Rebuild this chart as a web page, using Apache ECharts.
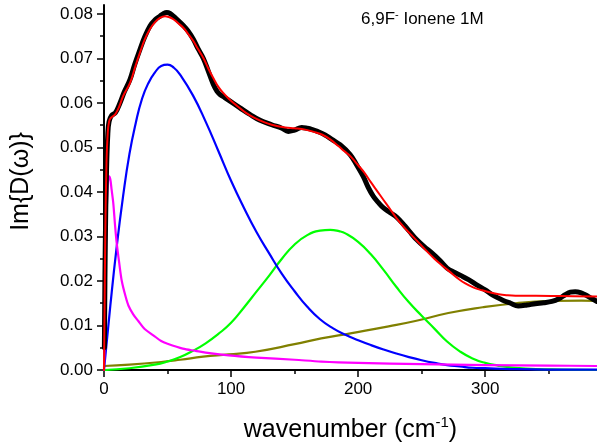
<!DOCTYPE html>
<html>
<head>
<meta charset="utf-8">
<script src="https://cdn.jsdelivr.net/npm/echarts@6/dist/echarts.min.js"></script>
<style>
  html, body { margin: 0; padding: 0; background: #fff; }
  #chart { width: 597px; height: 446px; }
</style>
</head>
<body>
<div id="chart"></div>
<script>
// ---- tick labels ----
const xTicks = [0, 100, 200, 300];
const xMinorTicks = [50, 150, 250, 350];
const yTicks = [0, 0.01, 0.02, 0.03, 0.04, 0.05, 0.06, 0.07, 0.08];
const yMinorTicks = [0.005, 0.015, 0.025, 0.035, 0.045, 0.055, 0.065, 0.075];

// ---- measured data (black) ----
const dataX = [0.3, 1, 2, 3, 4, 6, 9, 12.6, 16, 20.5, 24, 28.3, 32, 36.2, 40, 44, 47, 49.4, 52, 54.6, 58, 62.4, 66, 70.3, 74, 78.2, 82, 86, 89, 91.3, 95, 99.2, 107, 115, 122.8, 132, 140, 145, 150, 155.6, 160, 164, 168, 174, 179.3, 185.8, 193.7, 199, 204, 208, 212, 216, 220, 225, 230.5, 237, 242, 246, 252, 258, 264, 270, 276, 281, 286.9, 293, 300, 306, 313, 320, 326, 333, 339.4, 346, 352.5, 358, 363, 367, 370.9, 375, 378.7, 383, 388];
const dataY = [0.005, 0.028, 0.045, 0.053, 0.0558, 0.0572, 0.0578, 0.0600, 0.0625, 0.0653, 0.0685, 0.0720, 0.0748, 0.0773, 0.0786, 0.0795, 0.0801, 0.0803, 0.0801, 0.0795, 0.0786, 0.0774, 0.0762, 0.0743, 0.0722, 0.0700, 0.0672, 0.0642, 0.0626, 0.0619, 0.0612, 0.0604, 0.0589, 0.0574, 0.0561, 0.0551, 0.0543, 0.0536, 0.0539, 0.0545, 0.0543, 0.0540, 0.0536, 0.0528, 0.0518, 0.0506, 0.0484, 0.0460, 0.0435, 0.0410, 0.0390, 0.0376, 0.0364, 0.0354, 0.0343, 0.0323, 0.0306, 0.0293, 0.0277, 0.0263, 0.0247, 0.0229, 0.0219, 0.0212, 0.0203, 0.0192, 0.0180, 0.0168, 0.0158, 0.0150, 0.0144, 0.0146, 0.0149, 0.0151, 0.0154, 0.0160, 0.0169, 0.0175, 0.0176, 0.0174, 0.0169, 0.0162, 0.0154];

// ---- total fit (red) ----
const fitX = [0, 0.5, 1, 2, 3, 4, 5, 7, 9, 12, 15, 20.5, 25, 28.3, 32, 36.2, 40, 44, 48, 51, 54.6, 58, 62.4, 66, 70.3, 74, 78.2, 82, 86, 90, 94, 98, 102, 107, 112, 118, 125, 132, 142.6, 150, 158.3, 165, 171.4, 178, 184.5, 189, 194, 200, 205, 210, 215, 220, 225, 230, 236, 242, 248, 254, 260, 266, 272, 278, 284, 291, 297.6, 304, 310.7, 317, 323.8, 340, 360, 388];
const fitY = [0, 0.015, 0.030, 0.047, 0.0535, 0.0558, 0.0565, 0.0570, 0.0575, 0.0592, 0.0615, 0.0645, 0.0685, 0.0713, 0.0742, 0.0766, 0.0781, 0.0791, 0.0795, 0.0793, 0.0788, 0.0780, 0.0769, 0.0756, 0.0739, 0.0721, 0.0701, 0.0678, 0.0656, 0.0636, 0.0622, 0.0610, 0.0600, 0.0588, 0.0577, 0.0567, 0.0558, 0.0551, 0.0545, 0.0543, 0.0540, 0.0535, 0.0529, 0.0518, 0.0503, 0.0492, 0.0480, 0.0460, 0.0443, 0.0422, 0.0402, 0.0382, 0.0362, 0.0342, 0.0321, 0.0303, 0.0285, 0.0267, 0.0250, 0.0235, 0.0221, 0.0207, 0.0195, 0.0185, 0.0179, 0.0174, 0.0170, 0.0168, 0.0167, 0.0167, 0.0166, 0.0165];

// ---- component 1 (magenta) ----
const magX = [0, 1, 2, 3, 4, 5, 6, 7.3, 8.7, 10, 12, 14, 17, 19.2, 23, 27, 32, 38.8, 45, 50, 62, 72, 80, 98, 120, 150, 171, 200, 250, 300, 350, 388];
const magY = [0, 0.016, 0.034, 0.042, 0.0435, 0.0428, 0.0405, 0.0375, 0.0325, 0.0285, 0.0240, 0.0200, 0.0165, 0.0145, 0.0125, 0.0110, 0.0092, 0.0078, 0.0065, 0.0059, 0.0048, 0.0043, 0.0039, 0.0033, 0.0028, 0.0023, 0.0019, 0.0016, 0.0013, 0.0011, 0.0010, 0.0009];

// ---- component 2 (blue) ----
const blueX = [0, 5, 10, 15, 20, 25, 30, 35, 40, 45, 50, 55, 60, 70, 80, 90, 100, 110, 120, 130, 140, 150, 160, 170, 180, 190, 200, 210, 220, 230, 240, 250, 260, 270, 280, 290, 300, 320, 350, 388];
const blueY = [0, 0.0145, 0.0277, 0.0390, 0.0485, 0.0555, 0.0610, 0.0645, 0.0668, 0.0683, 0.0686, 0.0679, 0.0663, 0.0617, 0.0558, 0.0492, 0.0425, 0.0365, 0.0310, 0.0262, 0.0216, 0.0177, 0.0142, 0.0114, 0.0094, 0.0079, 0.0067, 0.0056, 0.0046, 0.0037, 0.0029, 0.0022, 0.0016, 0.0011, 0.0008, 0.0005, 0.0004, 0.0002, 0.0001, 0.0001];

// ---- component 3 (green) ----
const greenX = [0, 20, 40, 50, 60, 70, 80, 90, 100, 110, 120, 130, 140, 150, 160, 170, 178, 185, 190, 200, 210, 220, 230, 240, 250, 260, 270, 280, 290, 300, 310, 320, 340, 360, 388];
const greenY = [0, 0.0004, 0.0012, 0.0019, 0.0029, 0.0043, 0.0060, 0.0081, 0.0106, 0.0140, 0.0176, 0.0212, 0.0250, 0.0282, 0.0303, 0.0313, 0.0315, 0.0312, 0.0307, 0.0288, 0.0260, 0.0225, 0.0187, 0.0152, 0.0122, 0.0093, 0.0064, 0.0042, 0.0026, 0.0016, 0.0010, 0.0006, 0.0002, 0.0001, 0];

// ---- component 4 (olive) ----
const oliveX = [0, 20, 45, 60, 78, 98, 119, 150, 171, 195, 224, 245, 271, 298, 324, 350, 376, 388];
const oliveY = [0.0009, 0.0012, 0.0018, 0.0023, 0.0030, 0.0035, 0.0041, 0.0058, 0.0071, 0.0083, 0.0098, 0.0110, 0.0128, 0.0141, 0.0150, 0.0155, 0.0156, 0.0155];

const pair = (xs, ys) => xs.map((x, i) => [x, ys[i]]);

const font = 'Liberation Sans, Arial, sans-serif';
const chart = echarts.init(document.getElementById('chart'), null, { renderer: 'canvas' });

function lineSeries(name, xs, ys, color, width, smooth) {
  return {
    name, type: 'line', data: pair(xs, ys), xAxisIndex: 0, yAxisIndex: 0,
    showSymbol: false, symbol: 'none', smooth: smooth,
    lineStyle: { color, width, cap: 'round', join: 'round' }, itemStyle: { color },
    animation: false, z: 2, clip: true
  };
}

chart.setOption({
  animation: false,
  backgroundColor: '#ffffff',
  grid: { left: 104, right: 0, top: 5, bottom: 76, containLabel: false, outerBoundsMode: 'none' },
  title: {
    text: '{a|6,9F}{s|-}{a| Ionene 1M}',
    left: 361, top: 9, padding: 0,
    textStyle: {
      fontWeight: 'normal',
      rich: {
        a: { fontFamily: font, fontSize: 17, fontWeight: 'normal', color: '#000', lineHeight: 20 },
        s: { fontFamily: font, fontSize: 11, fontWeight: 'normal', color: '#000', verticalAlign: 'top', lineHeight: 20 }
      }
    }
  },
  xAxis: [
    {
      type: 'value', min: 0, max: 388,
      name: '{a|wavenumber (cm}{s|-1}{a|)}',
      nameLocation: 'middle', nameGap: 45,
      nameTextStyle: {
        rich: {
          a: { fontFamily: font, fontSize: 25, color: '#000', lineHeight: 30 },
          s: { fontFamily: font, fontSize: 15, color: '#000', verticalAlign: 'top', lineHeight: 30 }
        }
      },
      axisLine: { show: true, onZero: false, lineStyle: { color: '#000', width: 2 } },
      axisTick: { show: true, inside: false, length: 7, customValues: xTicks, lineStyle: { color: '#000', width: 1.5 } },
      axisLabel: { show: true, customValues: xTicks, margin: 11, fontFamily: font, fontSize: 17, color: '#000', formatter: v => String(v) },
      splitLine: { show: false }
    },
    {
      type: 'value', min: 0, max: 388, position: 'bottom',
      axisLine: { show: false, onZero: false },
      axisTick: { show: true, inside: false, length: 4, customValues: xMinorTicks, lineStyle: { color: '#000', width: 1.5 } },
      axisLabel: { show: false },
      splitLine: { show: false }
    }
  ],
  yAxis: [
    {
      type: 'value', min: 0, max: 0.082,
      name: 'Im{D(ω)}',
      nameLocation: 'middle', nameGap: 70, nameRotate: 90,
      nameTextStyle: { fontFamily: font, fontSize: 25, color: '#000', padding: [0, 0, 0, 12] },
      axisLine: { show: true, onZero: false, lineStyle: { color: '#000', width: 2 } },
      axisTick: { show: true, inside: false, length: 7, customValues: yTicks, lineStyle: { color: '#000', width: 1.5 } },
      axisLabel: { show: true, customValues: yTicks, margin: 11, fontFamily: font, fontSize: 17, color: '#000', formatter: v => v.toFixed(2) },
      splitLine: { show: false }
    },
    {
      type: 'value', min: 0, max: 0.082, position: 'left',
      axisLine: { show: false, onZero: false },
      axisTick: { show: true, inside: false, length: 4, customValues: yMinorTicks, lineStyle: { color: '#000', width: 1.5 } },
      axisLabel: { show: false },
      splitLine: { show: false }
    }
  ],
  series: [
    lineSeries('olive', oliveX, oliveY, '#808000', 2.2, 0.5),
    lineSeries('green', greenX, greenY, '#00ff00', 2.2, 0.5),
    lineSeries('blue', blueX, blueY, '#0000ff', 2.2, 0.5),
    lineSeries('magenta', magX, magY, '#ff00ff', 2.2, 0.3),
    lineSeries('data', dataX, dataY, '#000000', 5, 0.4),
    lineSeries('fit', fitX, fitY, '#ff0000', 2, 0.4)
  ]
});
</script>
</body>
</html>
